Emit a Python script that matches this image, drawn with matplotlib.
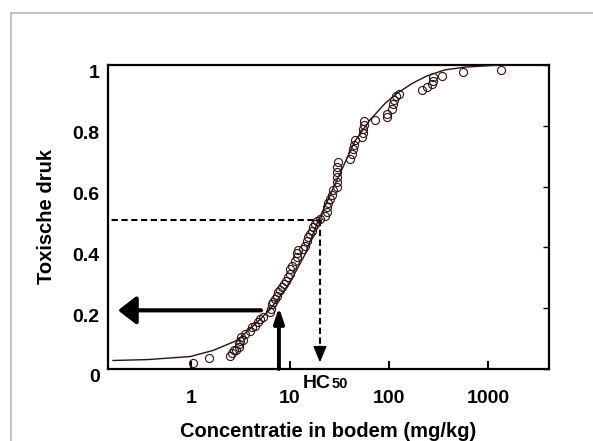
import matplotlib
matplotlib.use('Agg')
import matplotlib.pyplot as plt
import matplotlib.transforms as mtransforms
from matplotlib.patches import Rectangle

plt.rcParams['font.family'] = ['Liberation Sans', 'DejaVu Sans']
plt.rcParams['font.weight'] = 'bold'
plt.rcParams['axes.labelweight'] = 'bold'

# fitted curve (concentration mg/kg, toxic pressure)
curve_x = [0.163, 0.368, 0.98, 1.67, 2.92, 4.64, 6.28, 7.93, 10.0, 14.2, 19.2,
           25.4, 33.5, 45.4, 64.3, 91.1, 120, 171, 242, 368, 586, 1322, 3350, 4130]
curve_y = [0.028, 0.031, 0.041, 0.061, 0.094, 0.153, 0.196, 0.239, 0.285, 0.377,
           0.486, 0.572, 0.657, 0.750, 0.819, 0.873, 0.906, 0.939, 0.964, 0.984,
           0.993, 1.0, 1.0, 1.0]

# species data points
obs_x = [1.05, 1.52, 2.48, 2.59, 2.72, 2.85, 3.05, 3.05, 3.13, 3.20, 3.35, 3.51,
         3.94, 4.13, 4.43, 4.75, 4.98, 5.34, 6.28, 6.43, 6.58, 6.73, 7.05, 7.39,
         7.56, 7.93, 8.30, 8.69, 9.11, 9.55, 10.0, 10.0, 10.5, 11.2, 11.8, 11.8,
         12.0, 13.5, 14.2, 14.9, 15.2, 15.9, 16.7, 17.1, 17.9, 18.7, 20.1, 22.6,
         23.6, 23.6, 24.2, 25.4, 26.6, 27.2, 29.8, 29.8, 29.8, 29.8, 29.8, 30.5,
         40.4, 42.3, 43.3, 44.3, 45.4, 53.4, 54.6, 54.6, 55.9, 55.9, 72.2, 95.5,
         95.5, 107, 110, 112, 118, 126, 215, 242, 272, 278, 278, 343, 559, 1352]
obs_y = [0.021, 0.035, 0.044, 0.054, 0.061, 0.064, 0.071, 0.081, 0.091, 0.104,
         0.097, 0.114, 0.124, 0.137, 0.143, 0.153, 0.163, 0.170, 0.186, 0.199,
         0.213, 0.222, 0.229, 0.239, 0.252, 0.259, 0.269, 0.279, 0.288, 0.301,
         0.311, 0.328, 0.338, 0.354, 0.367, 0.381, 0.390, 0.394, 0.404, 0.420,
         0.433, 0.443, 0.453, 0.466, 0.476, 0.486, 0.493, 0.502, 0.516, 0.532,
         0.545, 0.558, 0.572, 0.588, 0.598, 0.614, 0.631, 0.647, 0.664, 0.680,
         0.690, 0.707, 0.723, 0.736, 0.753, 0.763, 0.776, 0.789, 0.802, 0.815,
         0.819, 0.829, 0.839, 0.855, 0.871, 0.885, 0.898, 0.904, 0.918, 0.928,
         0.937, 0.947, 0.960, 0.964, 0.977, 0.984]

x_ticks = [1, 10, 100, 1000]
x_tick_labels = ['1', '10', '100', '1000']
y_ticks = [0, 0.2, 0.4, 0.6, 0.8, 1.0]
y_tick_labels = ['0', '0.2', '0.4', '0.6', '0.8', '1']

hc50 = 20.1
hc50_y = 0.489
arrow_level = 0.193
arrow_start = 5.1
arrow_tip = 0.183
up_x = 7.74
up_tip = 0.203

fig = plt.figure(figsize=(5.93, 4.41), dpi=100)
fig.patches.append(Rectangle((11 / 593, -0.1), 1.2, (441 - 13) / 441 + 0.1,
                             transform=fig.transFigure, fill=False,
                             edgecolor='#c4c4c4', lw=1.5))
ax = fig.add_axes([108 / 593, 72 / 441, 441 / 593, 304 / 441])

ax.plot(curve_x, curve_y, color='#2a1010', lw=1.0, zorder=3)
ax.plot(obs_x, obs_y, 'o', mfc='none', mec='#2a1414', ms=5.8, mew=0.8, zorder=4)

# HC50 construction
ax.plot([0.1, hc50], [hc50_y, hc50_y], color='black', lw=1.5, dashes=(3, 1.7))
ax.plot([hc50, hc50], [hc50_y, 0.07], color='black', lw=1.5, dashes=(3, 1.7))
ax.annotate('', xy=(hc50, 0.022), xytext=(hc50, 0.075),
            arrowprops=dict(arrowstyle='-|>,head_length=1.0,head_width=0.42',
                            color='black', lw=1.0, shrinkA=0, shrinkB=0,
                            mutation_scale=10))
ax.annotate('', xy=(arrow_tip, arrow_level), xytext=(arrow_start, arrow_level),
            arrowprops=dict(arrowstyle='-|>,head_length=1.1,head_width=0.85',
                            color='black', lw=3, shrinkA=0, shrinkB=0,
                            mutation_scale=10))
ax.annotate('', xy=(up_x, up_tip), xytext=(up_x, 0),
            arrowprops=dict(arrowstyle='-|>,head_length=0.9,head_width=0.3',
                            color='black', lw=2.8, shrinkA=0, shrinkB=0,
                            mutation_scale=10))

ax.set_xscale('log')
ax.set_xlim(0.145, 4150)
ax.set_ylim(0, 1.0)
ax.set_xticks(x_ticks)
ax.set_xticklabels(x_tick_labels)
ax.set_yticks(y_ticks)
ax.set_yticklabels(y_tick_labels)
ax.minorticks_off()
ax.tick_params(axis='x', direction='in', length=6, width=1.5, pad=15, labelsize=14)
ax.tick_params(axis='y', direction='in', length=4, width=1, left=False, right=True,
               pad=6, labelsize=14)
offset = mtransforms.ScaledTranslation(0, -7 / 100, fig.dpi_scale_trans)
for lab in ax.get_yticklabels():
    lab.set_transform(lab.get_transform() + offset)
for sp in ax.spines.values():
    sp.set_linewidth(1.6)

ax.set_xlabel('Concentratie in bodem (mg/kg)', fontsize=14.5, fontweight='bold',
              labelpad=11)
ax.set_ylabel('Toxische druk', fontsize=14.5, fontweight='bold', labelpad=12)

fig.text(303 / 593, 1 - 388 / 441, 'HC', fontsize=14, fontweight='bold', va='baseline')
fig.text(332 / 593, 1 - 388 / 441, '50', fontsize=10.5, fontweight='bold', va='baseline')

fig.savefig('out.png', dpi=100)
